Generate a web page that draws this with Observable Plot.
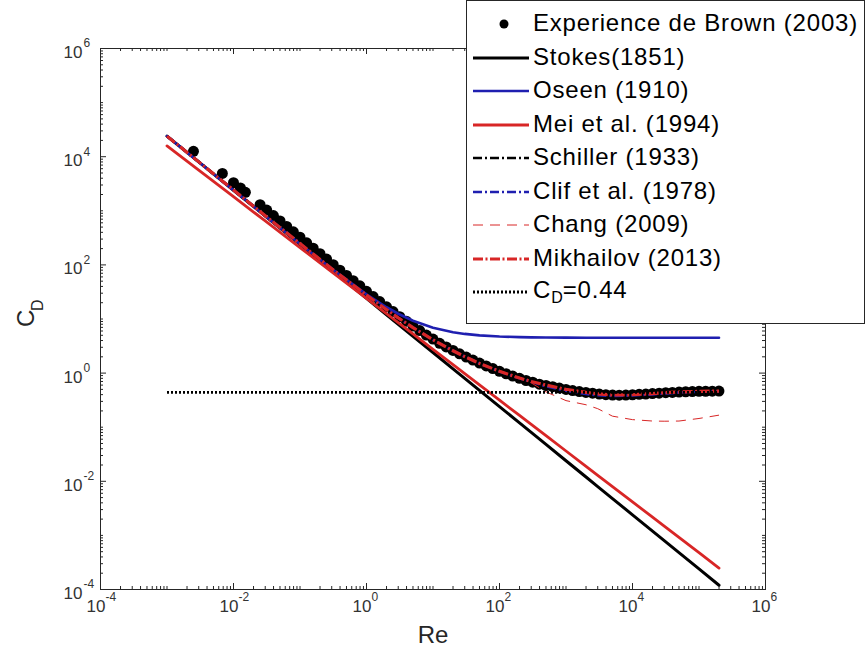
<!DOCTYPE html>
<html><head><meta charset="utf-8">
<script src="https://cdn.jsdelivr.net/npm/d3@7"></script>
<script src="https://cdn.jsdelivr.net/npm/@observablehq/plot@0.6"></script>
<style>
body{margin:0;background:#fff;font-family:"Liberation Sans",Arial,sans-serif;}
#wrap{position:relative;width:865px;height:661px;overflow:hidden;}
#legend{position:absolute;left:466px;top:0;width:397px;height:322px;border:1px solid #262626;background:#fff;}
.row{position:absolute;left:0;height:34px;display:flex;align-items:center;}
.row svg{flex:none;display:block}
.row span{font-size:24px;color:#000;margin-left:4px;white-space:nowrap;letter-spacing:0.8px;position:relative;top:-1px}
.row sub{font-size:16px;vertical-align:-5px;letter-spacing:0}
</style></head><body><div id="wrap"></div>
<script>
// ---- data: experimental points (Brown & Lawler 2003) ----
const brownRe = [0.0025, 0.0068, 0.0100, 0.0127, 0.0151, 0.0251, 0.0316, 0.0398, 0.0501, 0.0631, 0.0794,
  0.100, 0.126, 0.158, 0.200, 0.251, 0.316, 0.398, 0.501, 0.631, 0.794,
  1.00, 1.26, 1.58, 2.00, 2.51, 3.16, 3.98, 5.01, 6.31, 7.94,
  10.0, 12.6, 15.8, 20.0, 25.1, 31.6, 39.8, 50.1, 63.1, 79.4,
  100, 126, 158, 200, 251, 316, 398, 501, 631, 794,
  1000, 1259, 1585, 1995, 2512, 3162, 3981, 5012, 6310, 7943,
  10000, 12589, 15849, 19953, 25119, 31623, 39811, 50119, 63096, 79433,
  100000, 125893, 158489, 199526];
const brownCD = [12600, 4900, 3300, 2650, 2200, 1300, 1030, 815, 650, 515, 408,
  325, 256, 204, 161, 128, 101, 80, 64, 51, 41,
  32.5, 26.0, 21.0, 16.8, 13.7, 11.0, 9.1, 7.4, 6.1, 5.05,
  4.25, 3.55, 3.05, 2.62, 2.27, 1.98, 1.74, 1.53, 1.36, 1.21,
  1.08, 0.97, 0.88, 0.80, 0.73, 0.68, 0.625, 0.59, 0.56, 0.53,
  0.50, 0.475, 0.455, 0.44, 0.425, 0.41, 0.40, 0.392, 0.39, 0.392,
  0.398, 0.405, 0.41, 0.418, 0.426, 0.435, 0.44, 0.447, 0.452, 0.456,
  0.46, 0.462, 0.463, 0.465];

// ---- data: model curves, sampled on a common Re grid ----
const modelRe = [0.001, 0.003, 0.01, 0.03, 0.1, 0.3, 1, 2, 3, 5, 10, 20, 30, 50, 100, 200, 300, 500,
  1000, 2000, 3000, 5000, 10000, 20000, 30000, 50000, 100000, 200000];
const stokesCD = [24000, 8000, 2400, 800, 240, 80, 24, 12, 8, 4.8, 2.4, 1.2, 0.8, 0.48, 0.24, 0.12, 0.08, 0.048,
  0.024, 0.012, 0.008, 0.0048, 0.0024, 0.0012, 0.0008, 0.00048, 0.00024, 0.00012];
const oseenCD = [24004.5, 8004.5, 2404.5, 804.5, 244.5, 84.5, 28.5, 16.5, 12.5, 9.3, 6.9, 5.7, 5.3, 4.98, 4.74, 4.62, 4.58, 4.55,
  4.52, 4.51, 4.51, 4.5, 4.5, 4.5, 4.5, 4.5, 4.5, 4.5];
const meiCD = [15849, 5650, 1820, 649, 209, 74.5, 24.0, 12.5, 8.55, 5.29, 2.75, 1.44, 0.98, 0.607, 0.316, 0.165, 0.113, 0.0697,
  0.0363, 0.0189, 0.0129, 0.0080, 0.00417, 0.00217, 0.00149, 0.000918, 0.000479, 0.000249];
const schillerCD = [24003, 8022, 2415, 811, 247.4, 85.2, 27.6, 14.9, 10.55, 6.97, 4.15, 2.61, 2.04, 1.54, 1.09, 0.806, 0.684, 0.563,
  0.44, 0.44, 0.44, 0.44, 0.44, 0.44, 0.44, 0.44, 0.44, 0.44];
const cliftCD = [24003, 8023, 2416, 811, 247.5, 85.3, 27.6, 14.9, 10.5, 6.94, 4.13, 2.59, 2.02, 1.51, 1.07, 0.80, 0.69, 0.57,
  0.47, 0.41, 0.39, 0.378, 0.385, 0.405, 0.42, 0.437, 0.452, 0.46];
const changCD = [24003, 8023, 2416, 811, 247.5, 85.3, 27.6, 14.9, 10.5, 6.94, 4.13, 2.59, 2.02, 1.51, 1.07, 0.80, 0.66, 0.45,
  0.31, 0.26, 0.22, 0.16, 0.138, 0.13, 0.129, 0.13, 0.145, 0.167];
const mikhailovCD = [24003, 8023, 2416, 811, 247.5, 85.3, 27.6, 14.9, 10.5, 6.94, 4.13, 2.59, 2.02, 1.51, 1.08, 0.81, 0.70, 0.60,
  0.50, 0.44, 0.413, 0.393, 0.398, 0.418, 0.433, 0.447, 0.46, 0.465];
const limitRe = [0.001, 200000];
const limitCD = [0.44, 0.44];

// ---- labels ----
const seriesNames = ["Experience de Brown (2003)", "Stokes(1851)", "Oseen (1910)", "Mei et al. (1994)",
  "Schiller (1933)", "Clif et al. (1978)", "Chang (2009)", "Mikhailov (2013)", "C<sub>D</sub>=0.44"];
const tickValues = [1e-4, 1e-2, 1e0, 1e2, 1e4, 1e6];
const tickExponents = ["-4", "-2", "0", "2", "4", "6"];
const xLabel = "Re";

// ---- styles ----
const RED = "#d82626", BLUE = "#1f1fb0", INK = "#262626";
const lineStyles = [
  {stroke: "#000", width: 3, dash: null},
  {stroke: BLUE, width: 2.6, dash: null},
  {stroke: RED, width: 2.8, dash: null},
  {stroke: "#000", width: 2.6, dash: "9,3,2,3"},
  {stroke: BLUE, width: 2.6, dash: "9,3,2,3"},
  {stroke: RED, width: 1, dash: "10,7"},
  {stroke: RED, width: 3.2, dash: "10,2.5,2,2.5"},
  {stroke: "#000", width: 2.8, dash: "2,2"}
];
const modelSeries = [stokesCD, oseenCD, meiCD, schillerCD, cliftCD, changCD, mikhailovCD];

const W = 865, H = 661, mL = 100, mR = 100, mT = 48, mB = 72;
const fw = W - mL - mR, fh = H - mT - mB;
const rows = (re, cd) => re.map((r, i) => ({Re: r, CD: cd[i]}));

const minorTicks = [];
for (let d = -4; d < 6; d++) for (let m = 1; m < 10; m++) {
  if (m === 1 && Math.abs(d % 2) === 0) continue;
  minorTicks.push(+(m * Math.pow(10, d)).toPrecision(6));
}

const lineOpts = (s) => ({x: "Re", y: "CD", stroke: s.stroke, strokeWidth: s.width,
  strokeDasharray: s.dash, strokeLinecap: s.dash ? "butt" : "round"});

const marks = [
  Plot.dot(rows(brownRe, brownCD), {x: "Re", y: "CD", r: 5.5, fill: "#000", stroke: "none"}),
  ...modelSeries.map((cd, i) => Plot.line(rows(modelRe, cd), lineOpts(lineStyles[i]))),
  Plot.line(rows(limitRe, limitCD), lineOpts(lineStyles[7])),
  // inward ticks on all four sides
  Plot.tickX(tickValues, {x: d => d, insetTop: fh - 6, stroke: INK}),
  Plot.tickX(tickValues, {x: d => d, insetBottom: fh - 6, stroke: INK}),
  Plot.tickX(minorTicks, {x: d => d, insetTop: fh - 3, stroke: INK}),
  Plot.tickX(minorTicks, {x: d => d, insetBottom: fh - 3, stroke: INK}),
  Plot.tickY(tickValues, {y: d => d, insetRight: fw - 6, stroke: INK}),
  Plot.tickY(tickValues, {y: d => d, insetLeft: fw - 6, stroke: INK}),
  Plot.tickY(minorTicks, {y: d => d, insetRight: fw - 3, stroke: INK}),
  Plot.tickY(minorTicks, {y: d => d, insetLeft: fw - 3, stroke: INK}),
  Plot.frame({stroke: INK, strokeWidth: 1}),
  // x tick labels 10^k
  Plot.text(tickValues, {x: d => d, frameAnchor: "bottom", text: () => "10", textAnchor: "end",
    dx: 5, dy: 22, fontSize: 17, fill: "#333"}),
  Plot.text(tickValues, {x: d => d, frameAnchor: "bottom", text: (d, i) => tickExponents[i], textAnchor: "start",
    dx: 5, dy: 11, fontSize: 12, fill: "#333"}),
  // y tick labels
  Plot.text(tickValues, {y: d => d, frameAnchor: "left", text: () => "10", textAnchor: "end",
    dx: -18, dy: 4, fontSize: 17, fill: "#333"}),
  Plot.text(tickValues, {y: d => d, frameAnchor: "left", text: (d, i) => tickExponents[i], textAnchor: "start",
    dx: -17, dy: -5, fontSize: 12, fill: "#333"}),
  // axis labels
  Plot.text([xLabel], {frameAnchor: "bottom", text: d => d, dy: 53, fontSize: 24, fill: INK}),
  Plot.text(["C"], {frameAnchor: "left", text: d => d, rotate: -90, dx: -74, dy: 8, fontSize: 24, fill: INK}),
  Plot.text(["D"], {frameAnchor: "left", text: d => d, rotate: -90, dx: -63, dy: -8, fontSize: 16, fill: INK})
];

const chart = Plot.plot({
  width: W, height: H,
  marginLeft: mL, marginRight: mR, marginTop: mT, marginBottom: mB,
  x: {type: "log", domain: [1e-4, 1e6], axis: null},
  y: {type: "log", domain: [1e-4, 1e6], axis: null},
  style: {fontFamily: "'Liberation Sans', Arial, sans-serif", background: "#fff"},
  marks
});
const wrap = document.getElementById("wrap");
wrap.appendChild(chart);

// ---- legend (HTML overlay) ----
const legend = document.createElement("div");
legend.id = "legend";
seriesNames.forEach((name, i) => {
  const row = document.createElement("div");
  row.className = "row";
  row.style.top = (24 - 17 + i * 33.5 - 1) + "px";
  const ns = "http://www.w3.org/2000/svg";
  const svg = document.createElementNS(ns, "svg");
  svg.setAttribute("width", 62); svg.setAttribute("height", 34);
  if (i === 0) {
    const c = document.createElementNS(ns, "circle");
    c.setAttribute("cx", 37); c.setAttribute("cy", 17); c.setAttribute("r", 4.5); c.setAttribute("fill", "#000");
    svg.appendChild(c);
  } else {
    const s = lineStyles[i - 1];
    const l = document.createElementNS(ns, "line");
    l.setAttribute("x1", 6); l.setAttribute("x2", 62); l.setAttribute("y1", 17); l.setAttribute("y2", 17);
    l.setAttribute("stroke", s.stroke); l.setAttribute("stroke-width", Math.min(s.width, 2.8));
    if (s.dash) l.setAttribute("stroke-dasharray", s.dash);
    svg.appendChild(l);
  }
  const span = document.createElement("span");
  span.innerHTML = name;
  row.appendChild(svg); row.appendChild(span);
  legend.appendChild(row);
});
wrap.appendChild(legend);
</script></body></html>
